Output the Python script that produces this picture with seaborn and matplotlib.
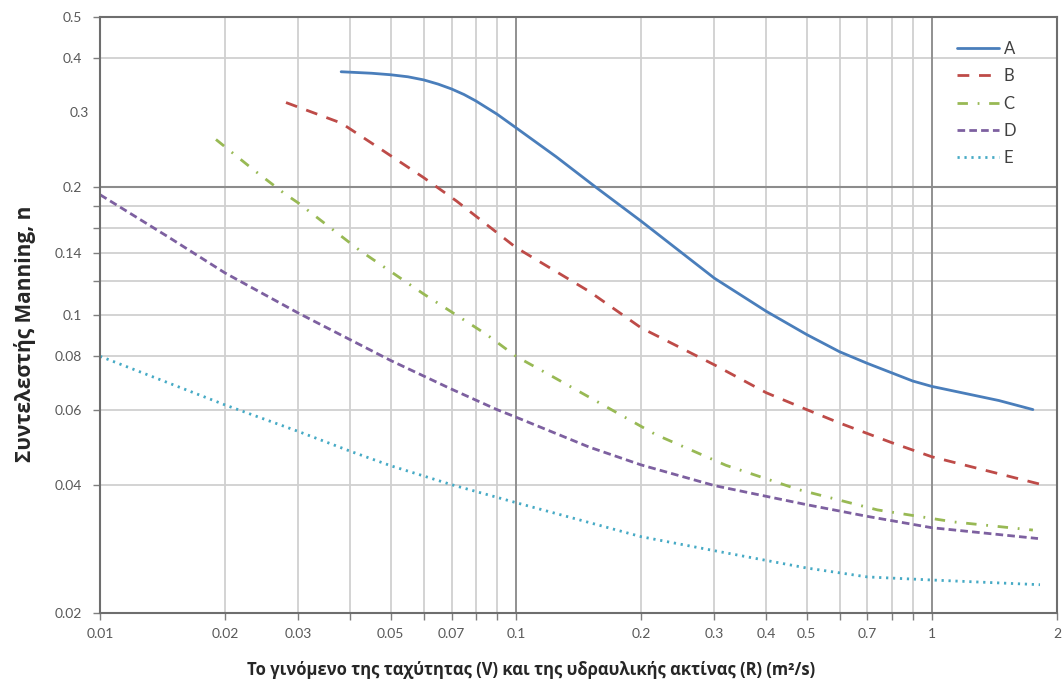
import numpy as np
import pandas as pd
import matplotlib
matplotlib.use("Agg")
import matplotlib.pyplot as plt
import seaborn as sns

# curve A
a_x = [0.038, 0.045, 0.05, 0.055, 0.06, 0.065, 0.07, 0.075, 0.08, 0.09, 0.1, 0.125, 0.155, 0.2, 0.3, 0.4, 0.5, 0.6, 0.7, 0.9, 1.0, 1.45, 1.75]
a_y = [0.372, 0.369, 0.366, 0.362, 0.356, 0.348, 0.339, 0.329, 0.318, 0.296, 0.275, 0.235, 0.2, 0.166, 0.122, 0.102, 0.09, 0.082, 0.077, 0.070, 0.068, 0.063, 0.060]
# curve B
b_x = [0.028, 0.038, 0.047, 0.06, 0.072, 0.1, 0.15, 0.2, 0.3, 0.4, 0.5, 0.6, 0.8, 1.0, 1.84]
b_y = [0.315, 0.282, 0.246, 0.21, 0.185, 0.144, 0.1136, 0.0933, 0.0764, 0.0657, 0.060, 0.0558, 0.0502, 0.0465, 0.040]
# curve C
c_x = [0.019, 0.0234, 0.0277, 0.03, 0.042, 0.06, 0.085, 0.1, 0.1225, 0.149, 0.217, 0.32, 0.48, 0.74, 1.13, 1.75]
c_y = [0.258, 0.219, 0.193, 0.183, 0.142, 0.112, 0.090, 0.080, 0.0717, 0.0644, 0.0524, 0.0444, 0.0389, 0.0349, 0.0327, 0.0313]
# curve D
d_x = [0.01, 0.0145, 0.02, 0.03, 0.05, 0.07, 0.09, 0.1, 0.15, 0.2, 0.3, 0.5, 0.7, 1.0, 1.8]
d_y = [0.1915, 0.153, 0.1254, 0.101, 0.0782, 0.067, 0.060, 0.0576, 0.049, 0.0445, 0.0398, 0.0359, 0.0337, 0.0317, 0.0299]
# curve E
e_x = [0.01, 0.02, 0.03, 0.04, 0.05, 0.07, 0.1, 0.15, 0.2, 0.3, 0.5, 0.7, 1.0, 1.82]
e_y = [0.08, 0.0615, 0.0533, 0.0479, 0.0443, 0.040, 0.0363, 0.0326, 0.0302, 0.028, 0.0255, 0.0243, 0.0239, 0.0233]

x_ticks = [0.01, 0.02, 0.03, 0.04, 0.05, 0.06, 0.07, 0.08, 0.09, 0.1, 0.2, 0.3, 0.4, 0.5, 0.6, 0.7, 0.8, 0.9, 1, 2]
x_labels = ["0.01", "0.02", "0.03", "", "0.05", "", "0.07", "", "", "0.1", "0.2", "0.3", "0.4", "0.5", "", "0.7", "", "", "1", "2"]
y_ticks = [0.02, 0.04, 0.06, 0.08, 0.1, 0.12, 0.14, 0.16, 0.18, 0.2, 0.4, 0.5]
y_labels = ["0.02", "0.04", "0.06", "0.08", "0.1", "", "0.14", "", "", "0.2", "0.4", "0.5"]

sns.set_style("ticks")
plt.rcParams["font.family"] = ["Lato", "DejaVu Sans"]
plt.rcParams["lines.scale_dashes"] = False

series = {
    "A": (a_x, a_y, "#4a7ebb", ""),
    "B": (b_x, b_y, "#be4b48", (8.5, 7.0)),
    "C": (c_x, c_y, "#98b954", (7.5, 7.0, 1.3, 7.0)),
    "D": (d_x, d_y, "#7d60a0", (5.5, 3.0)),
    "E": (e_x, e_y, "#46aac5", (1.6, 3.4)),
}

frames = []
for name, (xs, ys, _, _) in series.items():
    frames.append(pd.DataFrame({"x": xs, "y": ys, "curve": name}))
df = pd.concat(frames, ignore_index=True)

fig = plt.figure(figsize=(10.62, 6.91), dpi=100)
ax = fig.add_axes([0.0942, 0.1129, 0.9011, 0.8625])

sns.lineplot(
    data=df, x="x", y="y", hue="curve", style="curve",
    palette={k: v[2] for k, v in series.items()},
    dashes={k: v[3] for k, v in series.items()},
    estimator=None, sort=False, linewidth=2.0, ax=ax,
)
for line in ax.get_lines():
    line.set_dash_capstyle("butt")
    line.set_solid_joinstyle("round")

ax.set_xscale("log")
ax.set_yscale("log")
ax.set_xlim(0.01, 2)
ax.set_ylim(0.02, 0.5)

ax.set_xticks(x_ticks)
ax.set_xticklabels(x_labels)
ax.set_yticks(y_ticks)
ax.set_yticklabels(y_labels)
ax.xaxis.set_minor_locator(matplotlib.ticker.NullLocator())
ax.set_yticks([0.3], labels=["0.3"], minor=True)
ax.tick_params(axis="y", which="minor", length=0, labelsize=10, labelcolor="#595959", pad=8)
ax.tick_params(axis="both", which="major", length=5, width=1, color="#7f7f7f",
               labelsize=10, labelcolor="#595959")
ax.tick_params(axis="x", pad=6)
ax.tick_params(axis="y", which="major", pad=8)

ax.grid(True, which="major", color="#d0d0d0", linewidth=1.3)
ax.axhline(0.2, color="#8c8c8c", linewidth=1.5, zorder=1)
ax.axvline(0.1, color="#8c8c8c", linewidth=1.3, zorder=1)
ax.axvline(1, color="#8c8c8c", linewidth=1.3, zorder=1)
ax.set_axisbelow(True)

for sp in ax.spines.values():
    sp.set_color("#6e6e6e")
    sp.set_linewidth(1.5)

ax.set_xlabel("")
ax.set_ylabel("")
fig.text(0.5, 0.0304, "Το γινόμενο της ταχύτητας (V) και της υδραυλικής ακτίνας (R) (m²/s)",
         fontsize=12, fontweight="bold", family="Open Sans", ha="center", va="center")
fig.text(0.0235, 0.5166, "Συντελεστής Manning, n", fontsize=15, fontweight="bold",
         family="Open Sans", rotation=90, ha="center", va="center")

leg = ax.legend(loc="upper right", bbox_to_anchor=(0.973, 0.985), frameon=False,
                fontsize=12, handlelength=2.5, handletextpad=0.3, labelspacing=0.68,
                title=None)
for t in leg.get_texts():
    t.set_color("#404040")

fig.savefig("out.png", dpi=100)
